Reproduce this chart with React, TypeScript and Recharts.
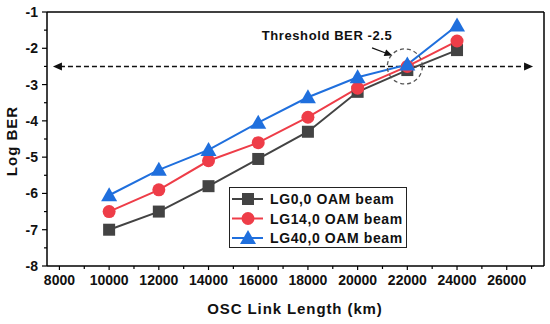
import React from "react";
import {
  LineChart,
  Line,
  XAxis,
  YAxis,
  Legend,
  ReferenceLine,
  ReferenceDot,
} from "recharts";

const lengths = [10000, 12000, 14000, 16000, 18000, 20000, 22000, 24000];
const lg0 = [-7.0, -6.5, -5.8, -5.05, -4.3, -3.2, -2.6, -2.05];
const lg14 = [-6.5, -5.9, -5.1, -4.6, -3.9, -3.1, -2.5, -1.8];
const lg40 = [-6.05, -5.35, -4.8, -4.05, -3.35, -2.8, -2.45, -1.37];

const xTicks = [
  8000, 9000, 10000, 11000, 12000, 13000, 14000, 15000, 16000, 17000, 18000,
  19000, 20000, 21000, 22000, 23000, 24000, 25000, 26000, 27000,
];
const yTicks = [
  -8, -7.5, -7, -6.5, -6, -5.5, -5, -4.5, -4, -3.5, -3, -2.5, -2, -1.5, -1,
];

const threshold = -2.5;

const data = lengths.map((len, i) => ({
  len,
  lg0: lg0[i],
  lg14: lg14[i],
  lg40: lg40[i],
}));

const FONT = "'Liberation Sans', Arial, sans-serif";
const GRAY = "#434343";
const RED = "#ee3d48";
const BLUE = "#1f6fdd";

const series = [
  { key: "lg0", name: "LG0,0 OAM beam", color: GRAY, shape: "square" },
  { key: "lg14", name: "LG14,0 OAM beam", color: RED, shape: "circle" },
  { key: "lg40", name: "LG40,0 OAM beam", color: BLUE, shape: "triangle" },
];

const Marker = ({ cx, cy, shape, color }: any) => {
  if (cx == null || cy == null) return null;
  if (shape === "square")
    return <rect x={cx - 6} y={cy - 6} width={12} height={12} fill={color} />;
  if (shape === "circle") return <circle cx={cx} cy={cy} r={6.5} fill={color} />;
  return (
    <polygon
      points={`${cx},${cy - 8} ${cx + 8},${cy + 6} ${cx - 8},${cy + 6}`}
      fill={color}
    />
  );
};

const XTick = ({ x, y, payload }: any) => {
  const major = payload.value % 2000 === 0;
  return (
    <g>
      <line x1={x} x2={x} y1={y} y2={y + (major ? 4 : 3)} stroke="#000" strokeWidth={1.2} />
      {major && (
        <text x={x} y={y + 19} textAnchor="middle" fontFamily={FONT} fontWeight="bold" fontSize={14} fill="#111">
          {payload.value}
        </text>
      )}
    </g>
  );
};

const YTick = ({ x, y, payload }: any) => {
  const major = Number.isInteger(payload.value);
  return (
    <g>
      <line x1={x} x2={x - (major ? 5 : 3)} y1={y} y2={y} stroke="#000" strokeWidth={1.2} />
      {major && (
        <text x={x - 9} y={y + 5} textAnchor="end" fontFamily={FONT} fontWeight="bold" fontSize={14} fill="#111">
          {payload.value}
        </text>
      )}
    </g>
  );
};

const ThresholdLine = ({ x1, y1, x2, y2 }: any) => (
  <g>
    <line x1={x1 + 7} y1={y1} x2={x2 - 7} y2={y2} stroke="#111" strokeWidth={1.5} strokeDasharray="5 3" />
    <polygon points={`${x1},${y1} ${x1 + 9},${y1 - 4} ${x1 + 9},${y1 + 4}`} fill="#111" />
    <polygon points={`${x2},${y2} ${x2 - 9},${y2 - 4} ${x2 - 9},${y2 + 4}`} fill="#111" />
  </g>
);

const PointerArrow = ({ x1, y1, x2, y2 }: any) => {
  const a = Math.atan2(y2 - y1, x2 - x1);
  const l = 8;
  const w = 3.5;
  const bx = x2 - l * Math.cos(a);
  const by = y2 - l * Math.sin(a);
  const px = -Math.sin(a) * w;
  const py = Math.cos(a) * w;
  return (
    <g>
      <line x1={x1} y1={y1} x2={bx} y2={by} stroke="#111" strokeWidth={1.3} />
      <polygon points={`${x2},${y2} ${bx + px},${by + py} ${bx - px},${by - py}`} fill="#111" />
    </g>
  );
};

const LegendBox = () => (
  <div
    style={{
      width: 178,
      height: 61,
      border: "1px solid #222",
      background: "#fff",
      boxSizing: "border-box",
    }}
  >
    <svg width={176} height={59}>
      {series.map((s, i) => {
        const cy = 11 + i * 19.5;
        return (
          <g key={s.key}>
            <line x1={2} x2={33} y1={cy} y2={cy} stroke={s.color} strokeWidth={2} />
            <Marker cx={18} cy={cy} shape={s.shape} color={s.color} />
            <text
              x={40}
              y={cy + 5}
              fontFamily={FONT}
              fontWeight="bold"
              fontSize={14}
              letterSpacing={0.6}
              fill="#111"
            >
              {s.name}
            </text>
          </g>
        );
      })}
    </svg>
  </div>
);

export default function App() {
  return (
    <div style={{ position: "absolute", left: 0, top: 0, background: "#fff" }}>
      <LineChart
        width={550}
        height={324}
        data={data}
        margin={{ top: 12, right: 6, left: 0, bottom: 0 }}
      >
        <XAxis
          dataKey="len"
          type="number"
          domain={[7500, 27500]}
          ticks={xTicks}
          interval={0}
          tickSize={0}
          tickMargin={0}
          tickLine={false}
          tick={<XTick />}
          height={58}
          axisLine={{ stroke: "#000", strokeWidth: 1.5 }}
          label={{
            content: () => (
              <text
                x={295}
                y={314}
                textAnchor="middle"
                fontFamily={FONT}
                fontWeight="bold"
                fontSize={15}
                letterSpacing={0.9}
                fill="#111"
              >
                OSC Link Length (km)
              </text>
            ),
          }}
        />
        <YAxis
          type="number"
          domain={[-8, -1]}
          ticks={yTicks}
          interval={0}
          width={47}
          tickSize={0}
          tickMargin={0}
          tickLine={false}
          tick={<YTick />}
          axisLine={{ stroke: "#000", strokeWidth: 1.5 }}
          label={{
            content: () => (
              <text
                x={17}
                y={141}
                transform="rotate(-90 17 141)"
                textAnchor="middle"
                fontFamily={FONT}
                fontWeight="bold"
                fontSize={15}
                letterSpacing={1}
                fill="#111"
              >
                Log BER
              </text>
            ),
          }}
        />
        <ReferenceLine y={-1} stroke="#000" strokeWidth={1.5} />
        <ReferenceLine x={27500} stroke="#000" strokeWidth={1.5} />
        <ReferenceLine
          segment={[
            { x: 7740, y: threshold },
            { x: 27060, y: threshold },
          ]}
          shape={(p: any) => <ThresholdLine {...p} />}
        />
        {series.map((s) => (
          <Line
            key={s.key}
            dataKey={s.key}
            name={s.name}
            stroke={s.color}
            strokeWidth={2}
            dot={(p: any) => <Marker key={`${s.key}-${p.index}`} cx={p.cx} cy={p.cy} shape={s.shape} color={s.color} />}
            activeDot={false}
            isAnimationActive={false}
          />
        ))}
        <ReferenceDot
          x={21900}
          y={threshold}
          shape={(p: any) => (
            <circle cx={p.cx} cy={p.cy} r={17.5} fill="none" stroke="#555" strokeWidth={1.3} strokeDasharray="4 3" />
          )}
        />
        <ReferenceLine
          segment={[
            { x: 20580, y: -1.99 },
            { x: 21400, y: -2.2 },
          ]}
          shape={(p: any) => <PointerArrow {...p} />}
        />
        <ReferenceDot
          x={18770}
          y={-1.63}
          shape={(p: any) => (
            <text
              x={p.cx}
              y={p.cy + 5}
              textAnchor="middle"
              fontFamily={FONT}
              fontWeight="bold"
              fontSize={13}
              letterSpacing={0.6}
              fill="#111"
            >
              Threshold BER -2.5
            </text>
          )}
        />
        <Legend
          layout="vertical"
          align="center"
          verticalAlign="middle"
          wrapperStyle={{ left: 229, top: 187, width: 178, height: 61 }}
          content={() => <LegendBox />}
        />
      </LineChart>
    </div>
  );
}
